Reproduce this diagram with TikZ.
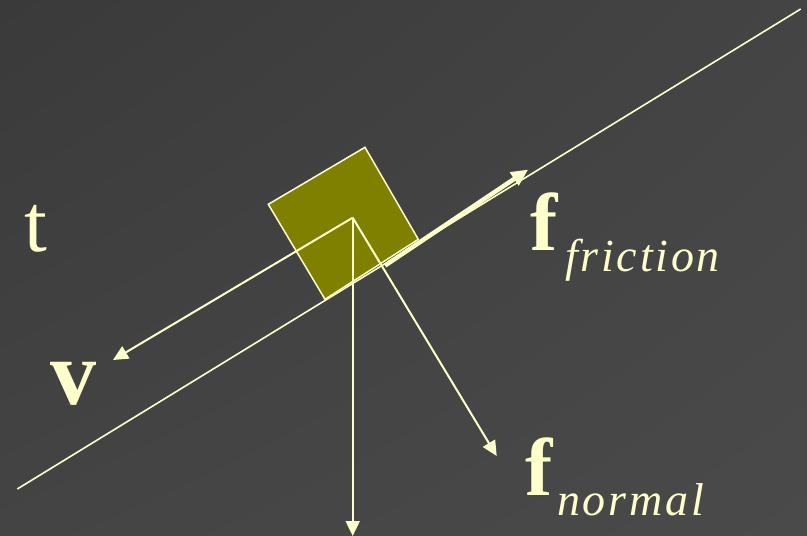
\documentclass[tikz,border=0pt]{standalone}
\usepackage{fontspec}
\setmainfont{Liberation Serif}
\newfontfamily\subfont[LetterSpace=6]{Liberation Serif}
\usetikzlibrary{arrows.meta,shadings}
\definecolor{cream}{HTML}{FFFFCC}
\definecolor{olivebox}{HTML}{808000}
\definecolor{bgA}{HTML}{3A3A3A}
\definecolor{bgB}{HTML}{444444}
\definecolor{bgC}{HTML}{4A4A4A}
\begin{document}
\begin{tikzpicture}[x=1pt,y=-1pt,
  vec/.style={draw=cream, line width=2pt, -{Triangle[length=15pt,width=14pt]}},
  big/.style={text=cream, font=\fontsize{82}{90}\selectfont, inner sep=0pt, anchor=base west},
  sub/.style={text=cream, font=\subfont\itshape\fontsize{46}{50}\selectfont, inner sep=0pt, anchor=base west},
  block/.style={fill=olivebox, draw=cream, line width=1.5pt, line join=miter},
  incline/.style={draw=cream, line width=1.6pt}]
\useasboundingbox (0,0) rectangle (807,536);
\shade[upper left=bgA, upper right=bgB, lower left=bgB, lower right=bgC] (0,0) rectangle (807,536);
% coordinates
\coordinate (inc1) at (17.3,489);
\coordinate (inc2) at (800.7,9);
\coordinate (c) at (352.7,217.7);
\coordinate (vtip) at (113,360);
\coordinate (gtip) at (352.7,536);
\coordinate (ntip) at (496.7,456);
\coordinate (fs) at (385,265.5);
\coordinate (ftip) at (528.3,169.5);
% block
\filldraw[block] (268.3,204.3) -- (365,147.3) -- (418.3,239.3) -- (325,299.3) -- cycle;
% incline
\draw[incline] (inc1) -- (inc2);
% vectors
\draw[vec] (c) -- (vtip);
\draw[vec] (c) -- (gtip);
\draw[vec] (c) -- (ntip);
\draw[vec, line width=4.5pt, -{Triangle[length=17pt,width=15pt]}] (fs) -- (ftip);
% labels
\node[big] (t) at (24,251) {t};
\node[big, font=\fontsize{92}{96}\selectfont] (v) at (50,404) {\bfseries v};
\node[big] (f1) at (530,250) {\bfseries f};
\node[sub] (s1) at (565,271.7) {friction};
\node[big] (f2) at (525,495) {\bfseries f};
\node[sub] (s2) at (557,515) {normal};
\end{tikzpicture}
\end{document}
